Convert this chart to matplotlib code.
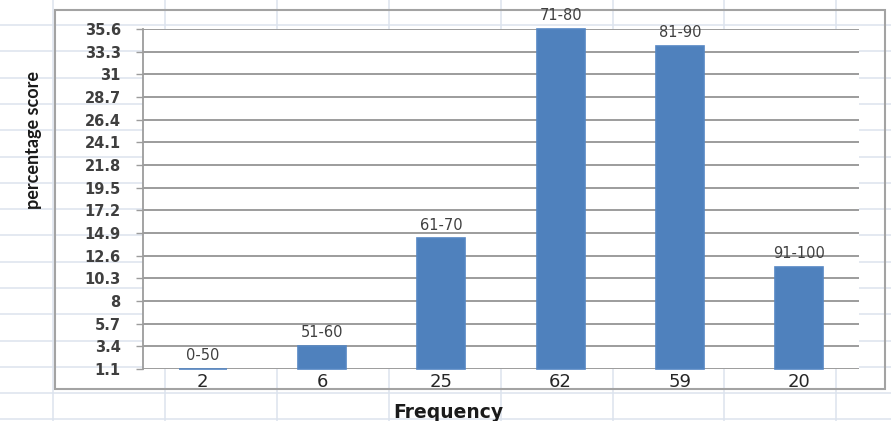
import numpy as np
import matplotlib; matplotlib.use("Agg")
import matplotlib.pyplot as plt
from matplotlib.lines import Line2D
from matplotlib.patches import Rectangle

plt.rcParams["font.family"] = "DejaVu Sans"

# score bands, number of students and percentage of students per band
bands = ["0-50", "51-60", "61-70", "71-80", "81-90", "91-100"]
freq = [2, 6, 25, 62, 59, 20]
pct = [1.15, 3.45, 14.37, 35.63, 33.91, 11.49]
y_min, y_max, y_step = 1.1, 35.6, 2.3

W, H = 891, 421
fig = plt.figure(figsize=(W/100, H/100), dpi=100, facecolor="white")

def fx(px): return px / W
def fy(py): return 1 - py / H

# worksheet cell grid behind the chart
sheet_c = "#dce3ee"
for x in np.arange(53, W, 111.9):
    fig.add_artist(Line2D([fx(x)]*2, [0, 1], color=sheet_c, lw=1.1, zorder=-3))
for y in np.arange(25, H, 26.3):
    fig.add_artist(Line2D([0, 1], [fy(y)]*2, color=sheet_c, lw=1.1, zorder=-3))

# chart area border (no fill, cells show through)
fig.add_artist(Rectangle((fx(55), fy(389)), fx(830), 379/H, fill=False,
                         edgecolor="#a3a3a3", lw=1.5, zorder=-2))

ax = fig.add_axes([fx(143), fy(369), fx(716), 340/H], facecolor="white")
xs = np.arange(len(bands))
bars = ax.bar(xs, np.array(pct) - y_min, bottom=y_min, width=0.4,
              color="#4f81bd", edgecolor="#5586c3", lw=1.2, zorder=3,
              clip_on=False)
for b, lab in zip(bars, bands):
    ax.annotate(lab, (b.get_x() + b.get_width()/2, b.get_y() + b.get_height()),
                xytext=(0, 4), textcoords="offset points", ha="center",
                va="bottom", fontsize=10.5, color="#404040", annotation_clip=False)

ticks = np.round(np.arange(y_min, y_max + 0.01, y_step), 1)
ax.set_ylim(y_min, y_max)
ax.set_yticks(ticks)
ax.set_yticklabels([f"{t:g}" for t in ticks], fontsize=10.5, fontweight="bold",
                   color="#3f3f3f")
ax.yaxis.grid(True, color="#9c9c9c", lw=1.4, zorder=0)
ax.tick_params(axis="y", length=5, width=1, color="#9c9c9c", pad=11)

ax.set_xlim(-0.5, len(bands) - 0.5)
ax.set_xticks(xs)
ax.set_xticklabels([str(f) for f in freq], fontsize=13, color="#262626")
ax.tick_params(axis="x", length=0, pad=3)

for s in ["top", "right", "bottom"]:
    ax.spines[s].set_visible(False)
ax.spines["left"].set_color("#9c9c9c")
ax.spines["left"].set_linewidth(1.3)
ax.set_axisbelow(True)

fig.text(fx(33), fy(140), "percentage score", rotation=90, ha="center",
         va="center", fontsize=13, fontweight="bold", family="Lato",
         color="#1a1a1a")
fig.text(fx(448), fy(412), "Frequency", ha="center", va="center",
         fontsize=13.5, fontweight="bold", color="#1a1a1a")

fig.savefig("out.png", dpi=100, facecolor="white")
